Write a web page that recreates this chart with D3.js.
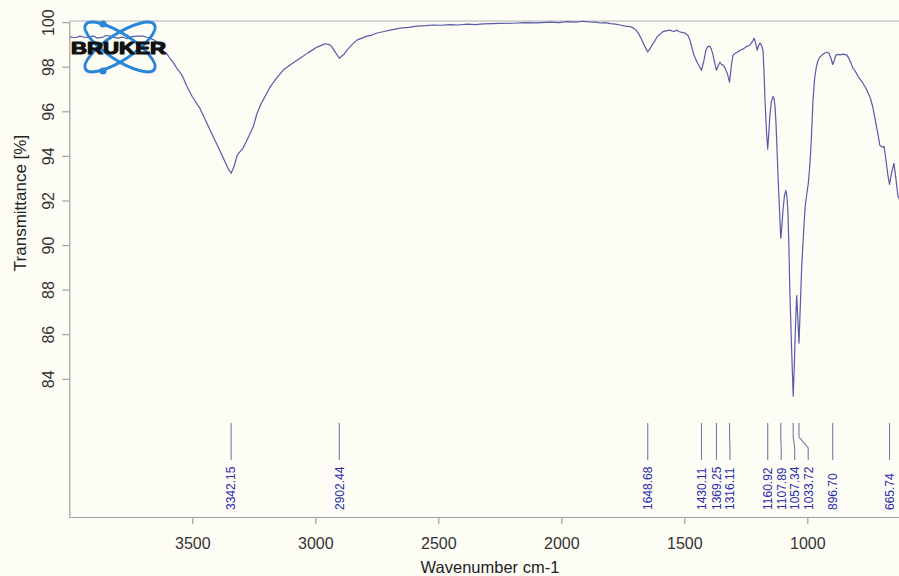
<!DOCTYPE html>
<html>
<head>
<meta charset="utf-8">
<script src="https://cdn.jsdelivr.net/npm/d3@7"></script>
<style>
  html, body { margin: 0; padding: 0; background: #fdfdf5; }
  svg { display: block; }
</style>
</head>
<body>
<svg id="chart" width="899" height="576"></svg>
<script>
// IR spectrum: wavenumber (cm-1) and transmittance (%)
const wavenumber = [
  3998, 3975, 3956, 3935, 3916, 3900, 3887, 3863, 3850, 3835, 3815, 3802, 3785, 3765, 3745, 3725,
  3700, 3685, 3672, 3655, 3644, 3630, 3619, 3605, 3591, 3575, 3563, 3550, 3538, 3522, 3500, 3469,
  3440, 3416, 3395, 3375, 3355, 3342.15, 3330, 3318, 3305, 3294, 3278, 3253, 3237, 3220, 3204, 3184,
  3160, 3131, 3100, 3062, 3030, 2993, 2973, 2960, 2953, 2940, 2932, 2916, 2902.44, 2890, 2883, 2871,
  2850, 2831, 2810, 2790, 2770, 2749, 2720, 2696, 2670, 2656, 2620, 2587, 2550, 2521, 2490, 2452,
  2420, 2384, 2350, 2318, 2280, 2249, 2200, 2147, 2100, 2046, 2010, 1977, 1940, 1912, 1890, 1863,
  1840, 1822, 1800, 1780, 1761, 1740, 1720, 1705, 1696, 1684, 1672, 1660, 1648.68, 1640, 1631, 1620,
  1611, 1600, 1587, 1570, 1558, 1550, 1542, 1530, 1522, 1514, 1497, 1485, 1477, 1470, 1461, 1452,
  1444, 1430.11, 1420, 1412, 1404, 1396, 1390, 1383, 1376, 1369.25, 1362, 1355, 1349, 1343, 1337, 1331,
  1325, 1316.11, 1308, 1302, 1293, 1285, 1273, 1260, 1245, 1235, 1225, 1216, 1210, 1204, 1198, 1192,
  1186, 1180, 1176, 1172, 1166, 1160.92, 1156, 1152, 1146, 1139, 1135, 1131, 1127, 1123, 1116, 1107.89,
  1103, 1099, 1093, 1087, 1083, 1079, 1075, 1071, 1064, 1057.34, 1053, 1050, 1046, 1043, 1039, 1033.72,
  1028, 1023, 1016, 1009, 1002, 996, 991, 986, 981, 977, 970, 963, 956, 948, 940, 930,
  920, 912, 904, 896.70, 890, 884, 874, 865, 859, 850, 839, 830, 822, 814, 804, 794,
  784, 774, 760, 752, 745, 735, 725, 715, 705, 696, 688, 680, 672, 665.74, 658, 648,
  640, 632, 615
];
const transmittance = [
  99.34, 99.30, 99.37, 99.31, 99.33, 99.38, 99.28, 99.33, 99.40, 99.37, 99.30, 99.28, 99.33, 99.26, 99.35, 99.37,
  99.37, 99.32, 99.28, 99.20, 99.10, 98.95, 98.70, 98.60, 98.38, 98.15, 97.93, 97.75, 97.53, 97.12, 96.65, 96.13,
  95.45, 94.88, 94.40, 93.93, 93.44, 93.22, 93.53, 94.02, 94.20, 94.34, 94.70, 95.28, 95.90, 96.35, 96.67, 97.08,
  97.45, 97.84, 98.10, 98.38, 98.62, 98.88, 98.97, 99.03, 99.01, 98.98, 98.88, 98.61, 98.38, 98.50, 98.56, 98.74,
  99.00, 99.19, 99.28, 99.37, 99.42, 99.51, 99.58, 99.64, 99.70, 99.73, 99.76, 99.82, 99.84, 99.87, 99.86, 99.89,
  99.87, 99.91, 99.89, 99.92, 99.93, 99.94, 99.95, 99.98, 99.97, 100.00, 99.98, 100.02, 100.00, 100.04, 100.01, 100.00,
  99.96, 99.98, 99.93, 99.91, 99.87, 99.82, 99.80, 99.72, 99.64, 99.45, 99.19, 98.90, 98.66, 98.80, 98.97, 99.15,
  99.33, 99.45, 99.57, 99.62, 99.64, 99.60, 99.58, 99.64, 99.58, 99.55, 99.51, 99.40, 99.19, 98.90, 98.52, 98.30,
  98.11, 97.84, 98.29, 98.75, 98.90, 98.92, 98.78, 98.52, 98.15, 97.84, 98.05, 98.20, 98.10, 98.07, 98.00, 97.84,
  97.70, 97.30, 98.10, 98.52, 98.60, 98.65, 98.74, 98.80, 98.92, 98.95, 99.10, 99.28, 99.05, 98.74, 98.95, 99.06,
  98.95, 98.74, 97.80, 96.49, 95.10, 94.30, 95.10, 95.82, 96.45, 96.67, 96.55, 96.20, 95.40, 94.25, 92.30, 90.30,
  90.90, 91.55, 92.20, 92.45, 92.20, 91.55, 90.00, 87.96, 85.40, 83.22, 84.50, 85.71, 87.00, 87.73, 86.80, 85.60,
  87.40, 88.99, 90.40, 91.69, 92.30, 92.76, 93.40, 94.25, 95.40, 96.49, 97.50, 98.00, 98.29, 98.45, 98.52, 98.60,
  98.65, 98.60, 98.38, 98.10, 98.30, 98.52, 98.55, 98.53, 98.56, 98.55, 98.52, 98.35, 98.15, 97.93, 97.78, 97.57,
  97.42, 97.26, 97.00, 96.80, 96.63, 96.25, 95.69, 95.10, 94.47, 94.40, 94.43, 93.80, 93.10, 92.72, 93.20, 93.66,
  93.00, 92.22, 91.78
];

// Picked peaks (cm-1)
const peakLabels = [3342.15, 2902.44, 1648.68, 1430.11, 1369.25, 1316.11, 1160.92, 1107.89, 1057.34, 1033.72, 896.70, 665.74];

const xTicks = [3500, 3000, 2500, 2000, 1500, 1000];
const yTicks = [84, 86, 88, 90, 92, 94, 96, 98, 100];

const svg = d3.select("#chart");

const x = d3.scaleLinear().domain([4000, 600]).range([69.3, 905.7]);
const y = d3.scaleLinear().domain([77.8, 100.05]).range([517, 21]);

const axisColor = "#a0a0a0";
const font = "'Liberation Sans', Arial, sans-serif";

// top frame line
svg.append("line")
  .attr("x1", x(4000)).attr("x2", x(600))
  .attr("y1", y.range()[1]).attr("y2", y.range()[1])
  .attr("stroke", "#c8c8c8").attr("stroke-width", 1.5);

// x axis
const gx = svg.append("g")
  .attr("transform", `translate(0,${y.range()[0]})`)
  .call(d3.axisBottom(x).tickValues(xTicks).tickSize(7).tickSizeOuter(0).tickFormat(d3.format("d")));
gx.select(".domain").attr("stroke", axisColor).attr("stroke-width", 1.2);
gx.selectAll(".tick line").attr("stroke", axisColor).attr("stroke-width", 1.2);
gx.selectAll(".tick text")
  .attr("y", 32).attr("dy", 0)
  .attr("fill", "#333").style("font-family", font).style("font-size", "16px");

// y axis
const gy = svg.append("g")
  .attr("transform", `translate(${x.range()[0]},0)`)
  .call(d3.axisLeft(y).tickValues(yTicks).tickSize(7).tickSizeOuter(0).tickFormat(d3.format("d")));
gy.select(".domain").attr("stroke", axisColor).attr("stroke-width", 1.2);
gy.selectAll(".tick line").attr("stroke", axisColor).attr("stroke-width", 1.2);
gy.selectAll(".tick text")
  .attr("x", 0).attr("y", -15).attr("dy", 0)
  .attr("transform", "rotate(-90)")
  .attr("text-anchor", "middle")
  .attr("fill", "#333").style("font-family", font).style("font-size", "16px");

// axis titles
svg.append("text")
  .attr("x", 490).attr("y", 573)
  .attr("text-anchor", "middle")
  .attr("fill", "#222").style("font-family", font).style("font-size", "16.5px")
  .text("Wavenumber cm-1");

svg.append("text")
  .attr("transform", "translate(26,203) rotate(-90)")
  .attr("text-anchor", "middle")
  .attr("fill", "#222").style("font-family", font).style("font-size", "17px")
  .text("Transmittance [%]");

// spectrum
const spectrum = wavenumber.map((w, i) => [w, transmittance[i]]);
svg.append("path")
  .datum(spectrum)
  .attr("fill", "none")
  .attr("stroke", "#5a5aaa")
  .attr("stroke-width", 1.2)
  .attr("stroke-linejoin", "round")
  .attr("d", d3.line().x(d => x(d[0])).y(d => y(d[1])));

// peak markers: labels pushed apart so they do not overlap
const minGap = 13.5;
const peaks = peakLabels.map(w => ({ w, px: x(w) })).sort((a, b) => a.px - b.px);
let lastX = -Infinity;
peaks.forEach(p => {
  p.lx = Math.max(p.px, lastX + minGap);
  lastX = p.lx;
});

const gp = svg.append("g");
gp.selectAll("path")
  .data(peaks)
  .join("path")
  .attr("fill", "none")
  .attr("stroke", "#7878aa")
  .attr("stroke-width", 1.1)
  .attr("d", p => `M${p.px},423 V437 L${p.lx},448 V460`);

gp.selectAll("text")
  .data(peaks)
  .join("text")
  .attr("transform", p => `translate(${p.lx},510) rotate(-90)`)
  .attr("dy", "0.36em")
  .attr("text-anchor", "start")
  .attr("fill", "#2b2bb0")
  .style("font-family", font)
  .style("font-size", "12px")
  .text(p => p.w.toFixed(2));

// instrument logo
const logo = svg.append("g");
[33, -33].forEach(a => {
  logo.append("ellipse")
    .attr("cx", 0).attr("cy", 0).attr("rx", 41).attr("ry", 13)
    .attr("transform", `translate(120,47) rotate(${a})`)
    .attr("fill", "none").attr("stroke", "#2a86d8").attr("stroke-width", 3);
});
[[103, 24], [103, 71]].forEach(([cx, cy]) => {
  logo.append("circle").attr("cx", cx).attr("cy", cy).attr("r", 3.6).attr("fill", "#2a86d8");
});
logo.append("text")
  .attr("x", 71).attr("y", 54)
  .attr("textLength", 95).attr("lengthAdjust", "spacingAndGlyphs")
  .attr("fill", "#111")
  .attr("stroke", "#111").attr("stroke-width", 1.1).attr("stroke-linejoin", "round")
  .style("font-family", font).style("font-weight", "bold").style("font-size", "16px")
  .text("BRUKER");
</script>
</body>
</html>
